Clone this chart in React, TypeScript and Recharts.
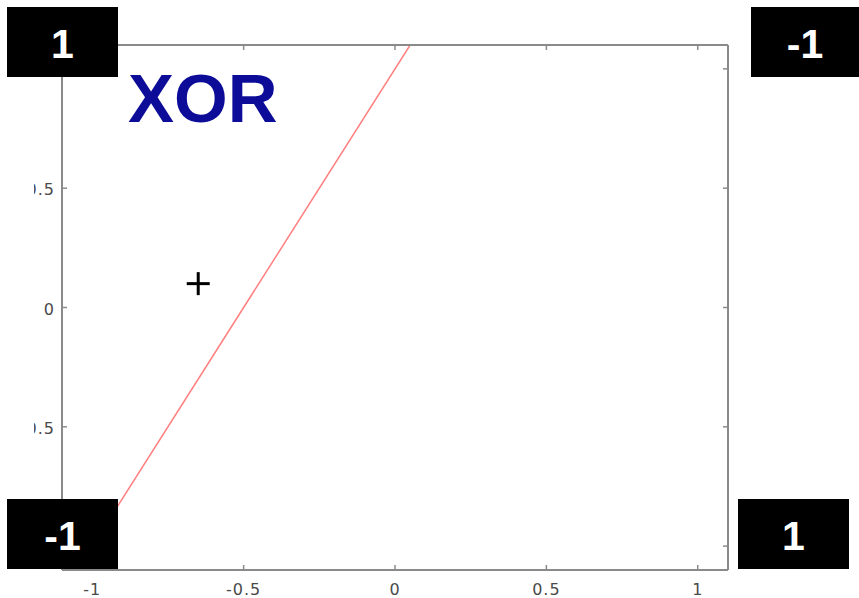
import React from 'react';
import { ComposedChart, Line, Scatter, XAxis, YAxis } from 'recharts';

const xTicks = [-1, -0.5, 0, 0.5, 1];
const yTicks = [-1, -0.5, 0, 0.5, 1];
const axisDomain: [number, number] = [-1.1, 1.1];
const boundaryLine = [
  { x: -1.05, y: -1.1 },
  { x: 0.05, y: 1.1 },
];
const samplePoints = [{ x: -0.65, y: 0.1 }];
const cornerLabels = [
  { label: '1', x: 7, y: 7, w: 111, h: 70 },
  { label: '-1', x: 751, y: 7, w: 108, h: 70 },
  { label: '-1', x: 7, y: 499, w: 111, h: 70 },
  { label: '1', x: 738, y: 499, w: 111, h: 70 },
];
const title = 'XOR';

const FRAME = '#8a8a8a';
const LABEL_FONT = '"DejaVu Sans", Verdana, sans-serif';

const BottomTick = (props: any) => {
  const { x, y, payload } = props;
  return (
    <g>
      <line x1={x} x2={x} y1={y} y2={y - 5} stroke={FRAME} strokeWidth={1.5} />
      <text x={x} y={y + 25} textAnchor="middle" fontSize={16} letterSpacing={1} fill="#4a4a4a" fontFamily={LABEL_FONT}>
        {String(payload.value)}
      </text>
    </g>
  );
};

const TopTick = (props: any) => {
  const { x, y } = props;
  return <line x1={x} x2={x} y1={y} y2={y + 5} stroke={FRAME} strokeWidth={1.5} />;
};

const LeftTick = (props: any) => {
  const { x, y, payload } = props;
  // labels at ±1 sit under the black corner boxes in the reference, so they are not drawn
  const hidden = Math.abs(payload.value) >= 1;
  return (
    <g>
      <line x1={x} x2={x + 5} y1={y} y2={y} stroke={FRAME} strokeWidth={1.5} />
      {!hidden && (
        <text x={x - 7} y={y + 7} textAnchor="end" fontSize={16} letterSpacing={1} fill="#4a4a4a" fontFamily={LABEL_FONT}>
          {String(payload.value)}
        </text>
      )}
    </g>
  );
};

const RightTick = (props: any) => {
  const { x, y } = props;
  return <line x1={x} x2={x - 5} y1={y} y2={y} stroke={FRAME} strokeWidth={1.5} />;
};

const PlusShape = (props: any) => {
  const { cx, cy } = props;
  const r = 11.5;
  return (
    <g>
      <line x1={cx - r} x2={cx + r} y1={cy} y2={cy} stroke="#000" strokeWidth={3} />
      <line x1={cx} x2={cx} y1={cy - r} y2={cy + r} stroke="#000" strokeWidth={3} />
    </g>
  );
};

export default function App() {
  const axisLine = { stroke: FRAME, strokeWidth: 2 };
  return (
    <div style={{ position: 'absolute', left: 0, top: 0, width: 859, height: 598, background: '#fff', overflow: 'hidden' }}>
      <div style={{ position: 'absolute', left: 34, top: 0, width: 825, height: 598, overflow: 'hidden' }}>
        <ComposedChart width={825} height={598} margin={{ top: 44, right: 130, bottom: 27, left: 27 }}>
          <XAxis
            xAxisId="b"
            type="number"
            dataKey="x"
            domain={axisDomain}
            ticks={xTicks}
            orientation="bottom"
            height={1}
            tickSize={0}
            tickMargin={0}
            tickLine={false}
            axisLine={axisLine}
            tick={<BottomTick />}
            allowDataOverflow
            interval={0}
          />
          <XAxis
            xAxisId="t"
            type="number"
            dataKey="x"
            domain={axisDomain}
            ticks={xTicks}
            orientation="top"
            height={1}
            tickSize={0}
            tickMargin={0}
            tickLine={false}
            axisLine={axisLine}
            tick={<TopTick />}
            allowDataOverflow
            interval={0}
          />
          <YAxis
            yAxisId="l"
            type="number"
            dataKey="y"
            domain={axisDomain}
            ticks={yTicks}
            orientation="left"
            width={1}
            tickSize={0}
            tickMargin={0}
            tickLine={false}
            axisLine={axisLine}
            tick={<LeftTick />}
            allowDataOverflow
            interval={0}
          />
          <YAxis
            yAxisId="r"
            type="number"
            dataKey="y"
            domain={axisDomain}
            ticks={yTicks}
            orientation="right"
            width={1}
            tickSize={0}
            tickMargin={0}
            tickLine={false}
            axisLine={axisLine}
            tick={<RightTick />}
            allowDataOverflow
            interval={0}
          />
          <Line
            xAxisId="b"
            yAxisId="l"
            data={boundaryLine}
            dataKey="y"
            type="linear"
            stroke="#ff7f7f"
            strokeWidth={1.5}
            dot={false}
            activeDot={false}
            isAnimationActive={false}
          />
          <Scatter
            xAxisId="b"
            yAxisId="l"
            data={samplePoints}
            dataKey="y"
            shape={<PlusShape />}
            isAnimationActive={false}
          />
        </ComposedChart>
      </div>
      <svg width={859} height={598} style={{ position: 'absolute', left: 0, top: 0, pointerEvents: 'none' }}>
        <text x={128} y={122} fontSize={69} fontWeight="bold" fill="#0c0c99" fontFamily='"Liberation Sans", Arial, sans-serif'>
          {title}
        </text>
        {cornerLabels.map((c, i) => (
          <g key={i}>
            <rect x={c.x} y={c.y} width={c.w} height={c.h} fill="#000" />
            <text
              x={c.x + c.w / 2}
              y={c.y + 51}
              textAnchor="middle"
              fontSize={41}
              fontWeight="bold"
              fill="#fff"
              fontFamily='"Liberation Sans", Arial, sans-serif'
            >
              {c.label}
            </text>
          </g>
        ))}
      </svg>
    </div>
  );
}
